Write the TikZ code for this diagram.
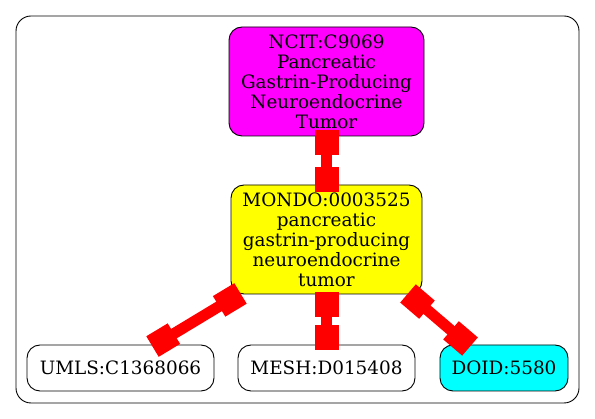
\documentclass[tikz,border=0pt]{standalone}
\usepackage{fontspec}
\setmainfont{DejaVu Serif}
\usepackage{tikz}
\usepackage{xcolor}
\usetikzlibrary{arrows.meta, positioning, calc}

\definecolor{ncitfill}{RGB}{255,0,255}
\definecolor{mondofill}{RGB}{255,255,0}
\definecolor{doidfill}{RGB}{0,255,255}
\definecolor{linkred}{RGB}{255,0,0}

\begin{document}
\begin{tikzpicture}[x=1pt, y=-1pt,
    term/.style={draw=black, line width=0.9pt, rounded corners=13pt, align=center, inner sep=0pt,
        font=\fontsize{18.4pt}{20pt}\selectfont},
    link/.style={linkred, line width=11pt, {Square[length=25pt, width=24pt]}-{Square[length=25pt, width=24pt]}}]
    \useasboundingbox (0,0) rectangle (595,419);

    % Outer frame
    \draw[black, line width=0.9pt, rounded corners=15pt] (16,16) rectangle (579,403);

    % Terms
    \node[term, fill=ncitfill, minimum width=195pt, minimum height=109pt] (ncit) at (326.5,81.5)
        {NCIT:C9069\\Pancreatic\\Gastrin-Producing\\Neuroendocrine\\Tumor};
    \node[term, fill=mondofill, minimum width=191pt, minimum height=109pt] (mondo) at (326.5,239.5)
        {MONDO:0003525\\pancreatic\\gastrin-producing\\neuroendocrine\\tumor};
    \node[term, fill=white, minimum width=187pt, minimum height=46pt] (umls) at (120.5,368) {UMLS:C1368066};
    \node[term, fill=white, minimum width=177pt, minimum height=46pt] (mesh) at (326.5,368) {MESH:D015408};
    \node[term, fill=doidfill, minimum width=128pt, minimum height=46pt] (doid) at (504,368) {DOID:5580};

    % Links
    \draw[link] ([yshift=6pt]ncit.south) -- ([yshift=-7pt]mondo.north);
    \draw[link] ([xshift=-86pt, yshift=1pt]mondo.south) -- ([xshift=32pt, yshift=-2pt]umls.north);
    \draw[link] ([yshift=2pt]mondo.south) -- ([yshift=-5pt]mesh.north);
    \draw[link] ([xshift=81.5pt, yshift=1pt]mondo.south) -- ([xshift=-34pt, yshift=-2pt]doid.north);
\end{tikzpicture}
\end{document}
